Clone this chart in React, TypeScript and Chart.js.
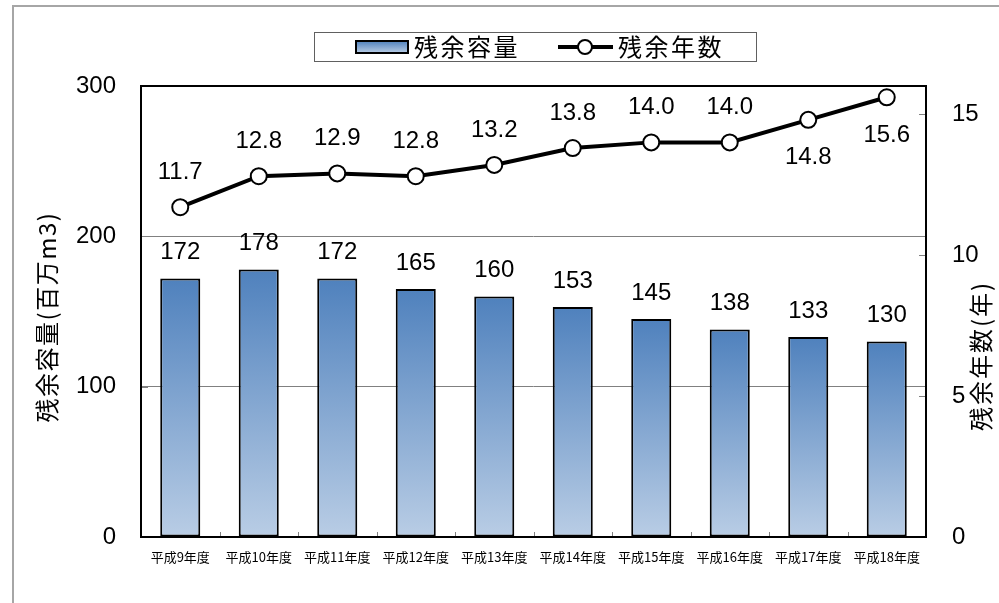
import React, { useEffect, useRef } from "react";
import { Chart, registerables } from "chart.js";

Chart.register(...registerables);

const categories = [
  "平成9年度", "平成10年度", "平成11年度", "平成12年度", "平成13年度",
  "平成14年度", "平成15年度", "平成16年度", "平成17年度", "平成18年度",
];
const capacity = [172, 178, 172, 165, 160, 153, 145, 138, 133, 130];
const remainingYears = [11.7, 12.8, 12.9, 12.8, 13.2, 13.8, 14.0, 14.0, 14.8, 15.6];
const leftTicks = [0, 100, 200, 300];
const rightTicks = [0, 5, 10, 15];
const seriesNames = ["残余容量", "残余年数"];
const axisTitles = ["残余容量(百万m3)", "残余年数(年)"];

const NUM_FONT = "'Liberation Sans', Arial, sans-serif";
const JP_FONT = "'Noto Sans CJK JP', sans-serif";
const BAR_TOP = "#4f81bd";
const BAR_BOTTOM = "#b9cde5";
const LABEL_BELOW = new Set([8, 9]);

const overlay = {
  id: "overlay",
  beforeDraw(chart: any) {
    const ctx = chart.ctx;
    ctx.save();
    ctx.fillStyle = "#ffffff";
    ctx.fillRect(0, 0, chart.width, chart.height);
    ctx.strokeStyle = "#a6a6a6";
    ctx.lineWidth = 2;
    ctx.beginPath();
    ctx.moveTo(13, chart.height);
    ctx.lineTo(13, 6);
    ctx.lineTo(chart.width, 6);
    ctx.stroke();
    ctx.restore();
  },
  afterDraw(chart: any) {
    const ctx = chart.ctx;
    const a = chart.chartArea;
    const y = chart.scales.y;
    const y1 = chart.scales.y1;
    const x = chart.scales.x;
    ctx.save();

    // inner tick marks
    ctx.strokeStyle = "#808080";
    ctx.lineWidth = 1;
    ctx.beginPath();
    leftTicks.forEach((v) => {
      const py = Math.round(y.getPixelForValue(v)) + 0.5;
      ctx.moveTo(a.left, py);
      ctx.lineTo(a.left + 7, py);
    });
    rightTicks.forEach((v) => {
      const py = Math.round(y1.getPixelForValue(v)) + 0.5;
      ctx.moveTo(a.right, py);
      ctx.lineTo(a.right - 7, py);
    });
    for (let i = 1; i < categories.length; i++) {
      const px = Math.round((x.getPixelForValue(i - 1) + x.getPixelForValue(i)) / 2) + 0.5;
      ctx.moveTo(px, a.bottom);
      ctx.lineTo(px, a.bottom - 5);
    }
    ctx.stroke();

    // plot border
    ctx.strokeStyle = "#000000";
    ctx.lineWidth = 2;
    ctx.strokeRect(a.left, a.top, a.right - a.left, a.bottom - a.top);

    // data labels
    ctx.fillStyle = "#000000";
    ctx.font = `24px ${NUM_FONT}`;
    ctx.textAlign = "center";
    ctx.textBaseline = "middle";
    const barMeta = chart.getDatasetMeta(0);
    barMeta.data.forEach((el: any, i: number) => {
      ctx.fillText(String(capacity[i]), el.x, el.y - 26);
    });
    const lineMeta = chart.getDatasetMeta(1);
    lineMeta.data.forEach((el: any, i: number) => {
      const dy = LABEL_BELOW.has(i) ? 38 : -35;
      ctx.fillText(remainingYears[i].toFixed(1), el.x, el.y + dy);
    });

    // legend
    ctx.strokeStyle = "#606060";
    ctx.lineWidth = 1;
    ctx.strokeRect(314.5, 32.5, 442, 29);
    const g = ctx.createLinearGradient(0, 41, 0, 53);
    g.addColorStop(0, BAR_TOP);
    g.addColorStop(1, BAR_BOTTOM);
    ctx.fillStyle = g;
    ctx.fillRect(356, 41, 52, 12);
    ctx.strokeStyle = "#000";
    ctx.lineWidth = 2;
    ctx.strokeRect(356, 41, 52, 12);
    ctx.fillStyle = "#000";
    ctx.font = `24px ${JP_FONT}`;
    ctx.textAlign = "left";
    ctx.textBaseline = "middle";
    (ctx as any).letterSpacing = "2.5px";
    ctx.fillText(seriesNames[0], 414, 47);
    ctx.lineWidth = 4;
    ctx.beginPath();
    ctx.moveTo(558, 47);
    ctx.lineTo(613, 47);
    ctx.stroke();
    ctx.beginPath();
    ctx.arc(585, 47, 7, 0, Math.PI * 2);
    ctx.fillStyle = "#fff";
    ctx.fill();
    ctx.lineWidth = 2;
    ctx.stroke();
    ctx.fillStyle = "#000";
    ctx.fillText(seriesNames[1], 618, 47);

    // axis titles
    ctx.textAlign = "center";
    ctx.font = `24px ${JP_FONT}`;
    (ctx as any).letterSpacing = "1.5px";
    ctx.save();
    ctx.translate(47, 317);
    ctx.rotate(-Math.PI / 2);
    ctx.fillText(axisTitles[0], 0, 0);
    ctx.restore();
    (ctx as any).letterSpacing = "2px";
    ctx.save();
    ctx.translate(981, 356);
    ctx.rotate(-Math.PI / 2);
    ctx.fillText(axisTitles[1], 0, 0);
    ctx.restore();
    (ctx as any).letterSpacing = "0px";

    ctx.restore();
  },
};

export default function App() {
  const ref = useRef<HTMLCanvasElement>(null);
  useEffect(() => {
    if (!ref.current) return;
    const chart = new Chart(ref.current, {
      type: "bar",
      data: {
        labels: categories,
        datasets: [
          {
            type: "bar",
            label: seriesNames[0],
            data: capacity,
            yAxisID: "y",
            order: 1,
            backgroundColor: (c: any) => {
              const ch = c.chart;
              const ys = ch.scales && ch.scales.y;
              const area = ch.chartArea;
              if (!ys || !area || c.type !== "data") return BAR_TOP;
              const top = ys.getPixelForValue(c.raw);
              const bottom = ys.getPixelForValue(0);
              if (!isFinite(top) || !isFinite(bottom) || top === bottom) return BAR_TOP;
              const gr = ch.ctx.createLinearGradient(0, top, 0, bottom);
              gr.addColorStop(0, BAR_TOP);
              gr.addColorStop(1, BAR_BOTTOM);
              return gr;
            },
            borderColor: "#000000",
            borderWidth: 2,
            borderSkipped: false,
            barPercentage: 0.51,
            categoryPercentage: 1,
          } as any,
          {
            type: "line",
            label: seriesNames[1],
            data: remainingYears,
            yAxisID: "y1",
            order: 0,
            borderColor: "#000000",
            borderWidth: 4,
            pointRadius: 8,
            pointBackgroundColor: "#ffffff",
            pointBorderColor: "#000000",
            pointBorderWidth: 2,
            tension: 0,
          } as any,
        ],
      },
      options: {
        animation: false,
        responsive: false,
        devicePixelRatio: 1,
        layout: { padding: { top: 86, left: 0, right: 0, bottom: 0 } },
        plugins: { legend: { display: false }, tooltip: { enabled: false } },
        scales: {
          x: {
            grid: { display: false },
            border: { display: false },
            ticks: {
              font: { size: 13, family: JP_FONT },
              color: "#000",
              maxRotation: 0,
              autoSkip: false,
              padding: 4,
            },
            afterFit: (s: any) => { s.height = 66; },
          },
          y: {
            position: "left",
            min: 0,
            max: 300,
            afterBuildTicks: (s: any) => { s.ticks = leftTicks.map((v) => ({ value: v })); },
            grid: {
              drawTicks: false,
              color: (c: any) => (c.tick && (c.tick.value === 100 || c.tick.value === 200) ? "#808080" : "rgba(0,0,0,0)"),
              lineWidth: 1,
            },
            border: { display: false },
            ticks: { font: { size: 24, family: NUM_FONT }, color: "#000", padding: 25 },
            afterFit: (s: any) => { s.width = 141; },
          },
          y1: {
            position: "right",
            min: 0,
            max: 16,
            afterBuildTicks: (s: any) => { s.ticks = rightTicks.map((v) => ({ value: v })); },
            grid: { display: false, drawTicks: false },
            border: { display: false },
            ticks: { font: { size: 24, family: NUM_FONT }, color: "#000", padding: 26 },
            afterFit: (s: any) => { s.width = 73; },
          },
        },
      } as any,
      plugins: [overlay],
    });
    return () => chart.destroy();
  }, []);
  return (
    <div style={{ position: "absolute", left: 0, top: 0, width: 999, height: 603, overflow: "hidden" }}>
      <canvas ref={ref} width={999} height={603} style={{ width: 999, height: 603, display: "block" }} />
    </div>
  );
}
